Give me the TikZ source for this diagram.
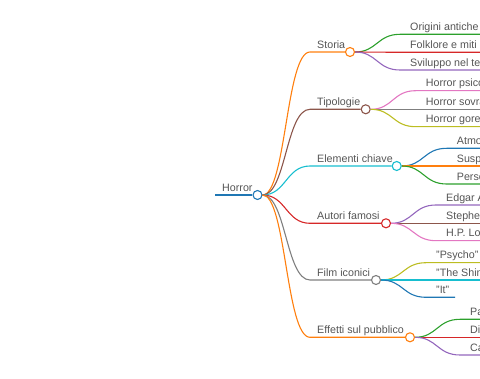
\documentclass[tikz,border=0pt]{standalone}
\usepackage{fontspec}
\setmainfont{Liberation Sans}
\definecolor{tblue}{HTML}{1F77B4}
\definecolor{torange}{HTML}{FF7F0E}
\definecolor{tgreen}{HTML}{2CA02C}
\definecolor{tred}{HTML}{D62728}
\definecolor{tpurple}{HTML}{9467BD}
\definecolor{tbrown}{HTML}{8C564B}
\definecolor{tpink}{HTML}{E377C2}
\definecolor{tgray}{HTML}{7F7F7F}
\definecolor{tolive}{HTML}{BCBD22}
\definecolor{tcyan}{HTML}{17BECF}
\definecolor{txtgray}{HTML}{555555}
\tikzset{
  lbl/.style={font=\fontsize{10.7}{12}\selectfont, text=txtgray, anchor=base west, inner sep=0pt},
  dot/.style={circle, draw, fill=white, line width=1.1pt, minimum size=9pt, inner sep=0pt},
  br/.style={line width=1.1pt},
}
\begin{document}
\begin{tikzpicture}[x=1pt,y=-1pt]
\useasboundingbox (0,0) rectangle (480,379);
\clip (0,0) rectangle (480,379);
% root
\coordinate (rs) at (215,195);
\node[dot, draw=tblue] (hr) at (257.5,195) {};
\draw[tblue, line width=1.8pt] (rs) -- (hr.west);
\node[lbl] (hrl) at (222,191.3) {Horror};

% level 1 branches: name, y, color, label, circle x
\foreach \n/\y/\c/\t/\cx in {
  a/52/torange/Storia/350,
  b/109.3/tbrown/Tipologie/365.7,
  c/166/tcyan/Elementi chiave/396.7,
  d/223.3/tred/Autori famosi/386,
  e/280/tgray/Film iconici/376,
  f/337.3/torange/Effetti sul pubblico/410}{
  \node[dot, draw=\c] (\n) at (\cx,\y) {};
  \coordinate (\n s) at (310,\y);
  \draw[br,\c] (hr.east) .. controls (286,195) and (286,\y) .. (\n s) -- (\n.west);
  \node[lbl] (\n l) at (317,\y-3.7) {\t};
}

% children: parent, y, color, label, end x
\foreach \p/\y/\c/\t/\ex in {
  a/34.3/tgreen/Origini antiche/520,
  a/52.3/tred/Folklore e miti/520,
  a/70/tpurple/Sviluppo nel tempo/520,
  b/90.7/tpink/Horror psicologico/520,
  b/109.3/tgray/Horror sovrannaturale/520,
  b/126.7/tolive/Horror gore/520,
  c/148.3/tblue/Atmosfera/520,
  c/166/torange/Suspense/520,
  c/184/tgreen/Personaggi/520,
  d/205/tpurple/Edgar Allan Poe/520,
  d/223.3/tbrown/Stephen King/520,
  d/240.7/tpink/H.P. Lovecraft/520,
  e/262.7/tolive/"Psycho"/520,
  e/280/tcyan/"The Shining"/520,
  e/297.3/tblue/"It"/455,
  f/319.3/tgreen/Paura/520,
  f/337.3/tred/Disagio/520,
  f/355/tpurple/Catarsi/520}{
  \path (\p) ++(50,0) coordinate (tmp);
  \coordinate (k1) at (tmp |- 0,\y);
  \coordinate (k2) at (\ex,\y);
  \draw[br,\c] (\p.east) .. controls ([xshift=22pt]\p.east) and ([xshift=-23pt]k1) .. (k1) -- (k2);
  \node[lbl] at ([xshift=10pt,yshift=3.7pt]k1) {\t};
}
\end{tikzpicture}
\end{document}
